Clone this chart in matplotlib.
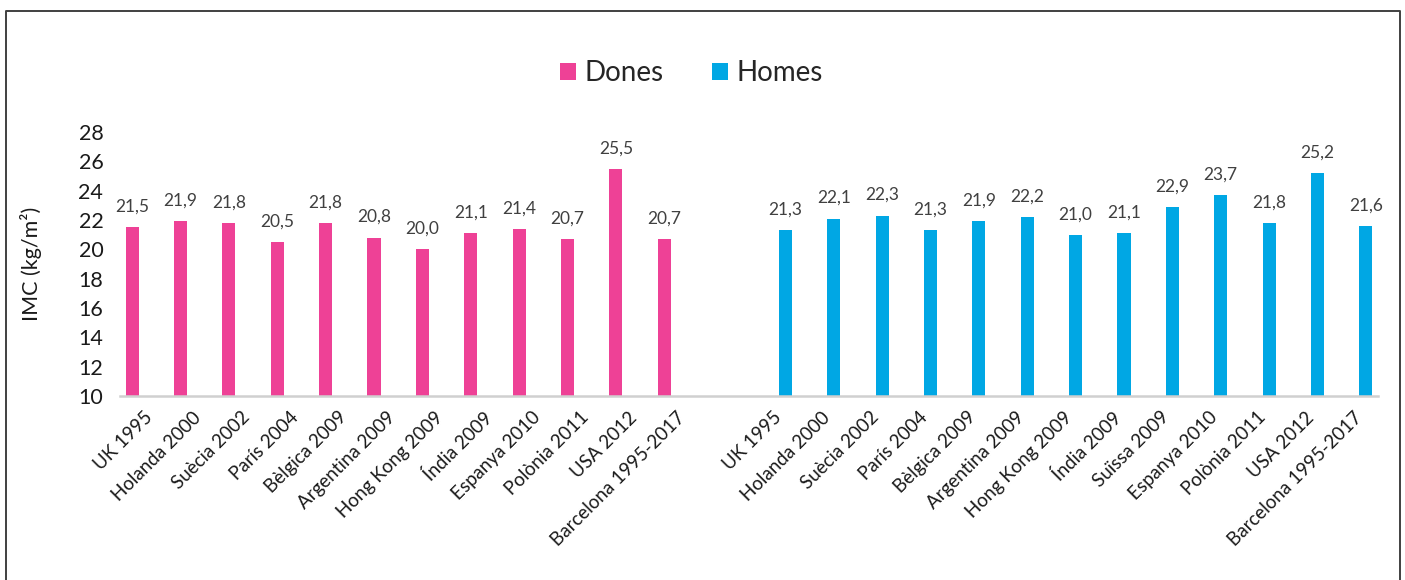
import matplotlib.pyplot as plt
from matplotlib.lines import Line2D
import numpy as np

# IMC mitjà per estudi, dones i homes
estudis_dones = ['UK 1995', 'Holanda 2000', 'Suècia 2002', 'París 2004', 'Bèlgica 2009',
                 'Argentina 2009', 'Hong Kong 2009', 'Índia 2009', 'Espanya 2010',
                 'Polònia 2011', 'USA 2012', 'Barcelona 1995-2017']
imc_dones = [21.5, 21.9, 21.8, 20.5, 21.8, 20.8, 20.0, 21.1, 21.4, 20.7, 25.5, 20.7]

estudis_homes = ['UK 1995', 'Holanda 2000', 'Suècia 2002', 'París 2004', 'Bèlgica 2009',
                 'Argentina 2009', 'Hong Kong 2009', 'Índia 2009', 'Suïssa 2009',
                 'Espanya 2010', 'Polònia 2011', 'USA 2012', 'Barcelona 1995-2017']
imc_homes = [21.3, 22.1, 22.3, 21.3, 21.9, 22.2, 21.0, 21.1, 22.9, 23.7, 21.8, 25.2, 21.6]

rosa = '#EE4196'
blau = '#00A7E4'

plt.rcParams['font.family'] = ['Lato', 'DejaVu Sans']

etiquetes = estudis_dones + [''] + estudis_homes
x = np.arange(len(etiquetes))
x_dones = x[:len(estudis_dones)]
x_homes = x[len(estudis_dones) + 1:]

fig = plt.figure(figsize=(14.05, 5.8), dpi=100)
ax = fig.add_axes([120 / 1405, 1 - 396 / 580, 1258 / 1405, 264 / 580])

amplada = 0.27
b1 = ax.bar(x_dones - 0.25, imc_dones, amplada, color=rosa, label='Dones')
b2 = ax.bar(x_homes + 0.25, imc_homes, amplada, color=blau, label='Homes')

for rect, v in list(zip(b1, imc_dones)) + list(zip(b2, imc_homes)):
    ax.annotate(f'{v:.1f}'.replace('.', ','),
                (rect.get_x() + rect.get_width() / 2, v),
                xytext=(0, 9), textcoords='offset points',
                ha='center', va='bottom', fontsize=12.5, color='#404040')

ax.set_ylim(10, 28)
ax.set_xlim(-0.5, len(etiquetes) - 0.5)
ax.set_yticks(np.arange(10, 29, 2))
ax.tick_params(axis='y', length=0, labelsize=15.5, pad=12, labelcolor='#1a1a1a')
ax.set_xticks(x)
ax.set_xticklabels(etiquetes, rotation=45, ha='right', rotation_mode='anchor',
                   fontsize=13.5, color='#1a1a1a')
ax.tick_params(axis='x', length=0, pad=9)
ax.set_ylabel('IMC (kg/m²)', fontsize=15.5, labelpad=26, color='#1a1a1a')

for s in ['top', 'right', 'left']:
    ax.spines[s].set_visible(False)
ax.spines['bottom'].set_color('#D0D0D0')
ax.spines['bottom'].set_linewidth(1.8)

leg = ax.legend(loc='center', bbox_to_anchor=(0.454, 1.222), ncol=2, frameon=False,
                handlelength=0.58, handleheight=0.58, handletextpad=0.3,
                columnspacing=1.75, prop={'size': 20})
for t in leg.get_texts():
    t.set_color('#262626')

# marc exterior obert per baix
W, H = 1405, 580
px = [6.5 / W, 6.5 / W, 1399.5 / W, 1399.5 / W]
py = [0, 1 - 10.5 / H, 1 - 10.5 / H, 0]
fig.add_artist(Line2D(px, py, transform=fig.transFigure, color='#404040', lw=1.4))

fig.savefig('out.png', dpi=100)
